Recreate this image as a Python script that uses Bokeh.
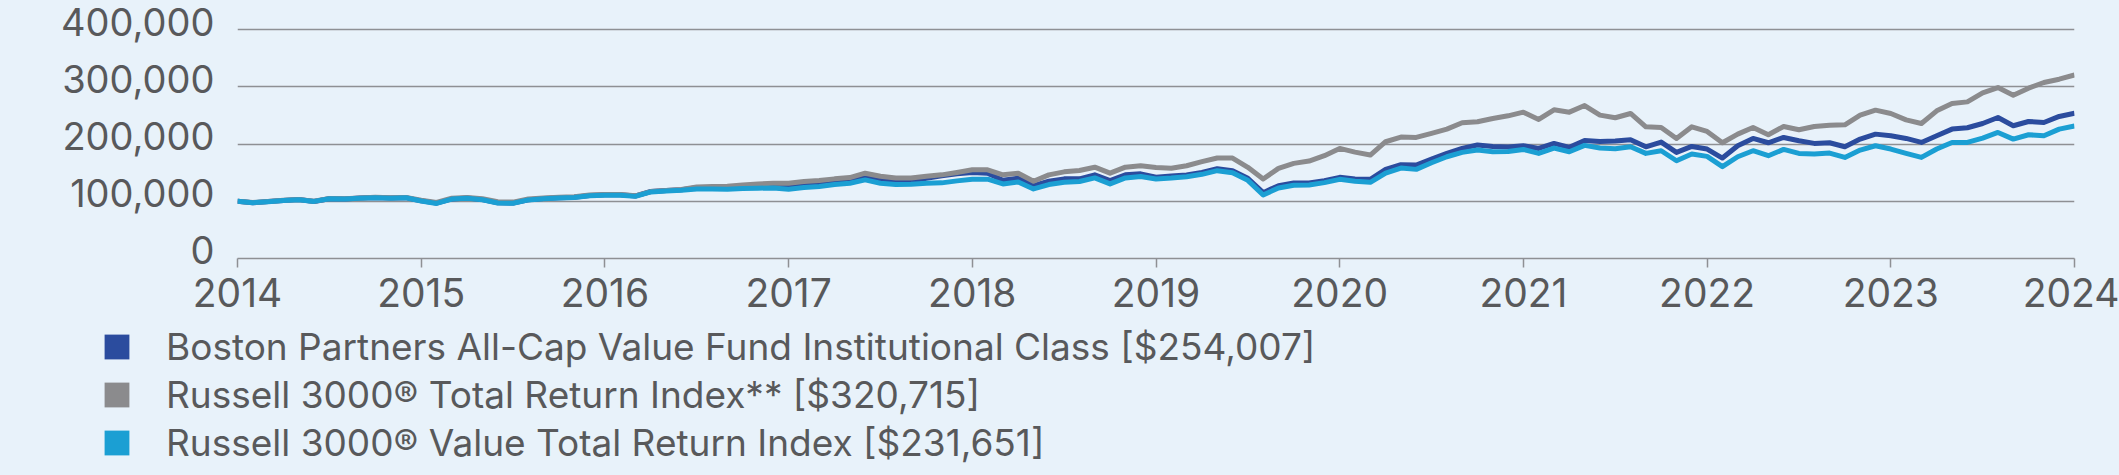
from bokeh.plotting import figure
from bokeh.models import (Range1d, LinearAxis, FixedTicker, NumeralTickFormatter,
                          Legend, LegendItem)
from bokeh.embed import file_html
from bokeh.resources import INLINE

# ---------------- data (values in $ thousands, monthly) ----------------
years = [2014, 2015, 2016, 2017, 2018, 2019, 2020, 2021, 2022, 2023, 2024]
y_ticks = [0, 100000, 200000, 300000, 400000]

fund_name = "Boston Partners All-Cap Value Fund Institutional Class [$254,007]"
r3000_name = "Russell 3000® Total Return Index** [$320,715]"
r3000v_name = "Russell 3000® Value Total Return Index [$231,651]"

fund = [100.0, 97.4, 99.5, 101.5, 103.0, 99.6, 104.5, 104.1, 105.6, 106.6, 105.7, 106.4,
        100.8, 96.8, 104.2, 105.8, 103.0, 97.4, 97.0, 102.8, 104.9, 106.4, 107.1, 110.3,
        111.3, 111.4, 109.3, 117.1, 118.8, 120.3,
        123.5, 123.5, 123.5, 125.5, 126.5, 127.5, 127.0, 129.5, 131.0, 134.0, 136.5, 143.5,
        137.5, 135.0, 135.5, 140.4, 144.4, 148.0, 150.3, 149.1, 136.8, 140.4, 127.5, 135.1,
        139.2, 139.2, 146.2, 136.3, 146.2, 148.0,
        142.0,
        144.2, 145.9, 150.6, 157.0, 153.5, 140.1, 115.1, 127.3, 132.0, 132.0, 136.0, 141.9,
        139.0, 138.4, 155.8, 164.0, 163.4, 173.8, 183.7, 192.4, 198.3, 195.9, 194.8, 197.1,
        192.4, 201.2, 194.2, 206.4, 204.7,
        205.2,
        207.6, 195.3, 203.5, 185.5, 195.9, 191.3, 175.6, 197.1, 209.9, 202.3, 211.6, 205.8,
        201.2, 202.3, 195.3, 208.7, 217.4, 214.5, 209.9, 202.9, 214.5, 226.2, 228.5, 236.0,
        246.5, 232.0, 239.5, 237.8, 248.3, 254.007]

r3000 = [100.0, 97.8, 99.6, 101.8, 103.2, 100.2, 104.8, 104.4, 105.9, 107.0, 106.0, 106.8,
         101.8, 98.0, 105.4, 106.8, 104.4, 99.2, 98.6, 104.0, 105.8, 107.2, 107.8, 111.0,
         111.8, 111.8, 109.6, 117.0, 118.8, 120.5,
         125.1, 125.7, 126.3, 128.7, 130.4, 131.6, 131.6, 134.5, 136.3, 139.2, 141.5, 149.1,
         143.9, 140.9, 140.9, 143.9, 146.2, 150.3, 155.0, 155.0, 146.2, 149.1, 135.1, 146.2,
         151.5, 153.8, 159.6, 149.1, 159.6, 162.0,
         159.2,
         157.6, 162.2, 169.2, 175.6, 175.6, 159.3, 139.0, 157.6, 166.3, 170.3, 179.7, 192.4,
         186.0, 180.8, 204.1, 212.2, 211.6, 218.6, 226.2, 237.2, 239.0, 244.8, 249.4, 255.8,
         243.0, 259.9, 255.8, 267.4, 250.6,
         246.0,
         253.5, 230.2, 229.1, 209.9, 230.2, 222.1, 202.3, 217.4, 229.1, 216.3, 230.8, 225.0,
         230.8, 233.1, 233.7, 250.6, 259.3, 253.5, 242.4, 236.0, 258.1, 270.9, 273.8, 289.5,
         298.8, 285.5, 297.7, 307.6, 313.4, 320.715]

r3000v = [100.0, 97.6, 99.4, 101.4, 102.8, 99.8, 104.3, 103.9, 105.3, 106.4, 105.4, 106.2,
          100.4, 96.3, 103.9, 105.4, 102.6, 97.0, 96.6, 102.4, 104.4, 105.8, 106.5, 109.6,
          110.6, 110.7, 108.6, 116.3, 118.0, 119.4,
          121.6, 121.6, 121.1, 122.2, 122.8, 123.4, 121.1, 124.0, 125.7, 129.2, 131.6, 137.4,
          131.6, 129.2, 129.8, 131.6, 132.2, 135.7, 138.6, 138.6, 130.4, 133.9, 121.6, 129.2,
          133.3, 134.5, 140.9, 130.4, 140.9, 143.3,
          139.0,
          140.7, 143.0, 147.1, 153.5, 150.0, 136.6, 111.0, 123.3, 127.9, 128.5, 132.6, 138.4,
          134.9, 133.1, 149.4, 158.1, 155.8, 167.4, 177.9, 185.5, 189.5, 186.6, 187.2, 190.7,
          183.7, 193.0, 186.6, 197.7, 193.0,
          192.0,
          195.3, 183.7, 188.4, 170.9, 182.6, 178.5, 160.5, 177.9, 188.4, 179.7, 190.7, 183.7,
          182.6, 184.3, 176.7, 189.5, 197.1, 191.3, 183.7, 176.7, 191.3, 202.9, 202.9, 210.5,
          220.3, 208.7, 216.3, 214.5, 226.2, 231.651]

# ---------------- styling ----------------
BG = "#E8F2FA"
C_FUND = "#2B4C9E"
C_R3000 = "#8B8B8D"
C_R3000V = "#1B9FD3"
C_GRID = "#8E9094"
C_TEXT = "#58595B"
FONT = "Inter"

x = [years[0] + m / 12 for m in range(len(fund))]


def to_dollars(s):
    return [v * 1000 for v in s]


p = figure(width=2119, height=320, output_backend="svg", toolbar_location=None,
           x_range=Range1d(2014, 2024), y_range=Range1d(0, 430000),
           y_axis_location=None,
           min_border_left=237, min_border_right=45, min_border_top=12, min_border_bottom=62,
           background_fill_color=BG, border_fill_color=BG, outline_line_color=None)

p.xgrid.visible = False
p.ygrid.ticker = FixedTicker(ticks=y_ticks[1:])
p.ygrid.grid_line_color = C_GRID
p.ygrid.grid_line_width = 1.5

xa = p.xaxis[0]
xa.ticker = FixedTicker(ticks=years)
xa.axis_line_color = C_GRID
xa.axis_line_width = 1.5
xa.major_tick_line_color = C_GRID
xa.major_tick_line_width = 1.5
xa.major_tick_in = 0
xa.major_tick_out = 9
xa.minor_tick_line_color = None
xa.major_label_standoff = 10
xa.major_label_text_font = FONT
xa.major_label_text_font_size = "39px"
xa.major_label_text_color = C_TEXT

# y labels sit a little above their gridlines in the original
p.extra_y_ranges = {"yl": Range1d(-14000, 416000)}
yl = LinearAxis(y_range_name="yl", ticker=FixedTicker(ticks=y_ticks),
                formatter=NumeralTickFormatter(format="0,0"),
                axis_line_color=None, major_tick_line_color=None, minor_tick_line_color=None,
                major_tick_in=0, major_tick_out=0, major_label_standoff=23,
                major_label_text_font=FONT, major_label_text_font_size="38px",
                major_label_text_color=C_TEXT)
p.add_layout(yl, "left")

series = [(fund, C_FUND, fund_name), (r3000, C_R3000, r3000_name), (r3000v, C_R3000V, r3000v_name)]
for vals, col, name in series:
    p.line(x, to_dollars(vals), line_color=col, line_width=5, line_join="round")

# ---------------- legend (own strip below the chart) ----------------
pl = figure(width=2119, height=155, output_backend="svg", toolbar_location=None,
            x_axis_location=None, y_axis_location=None,
            x_range=Range1d(0, 1), y_range=Range1d(0, 1),
            min_border_left=101, min_border_top=4, min_border_right=0, min_border_bottom=0,
            background_fill_color=BG, border_fill_color=BG, outline_line_color=None)
pl.xgrid.visible = False
pl.ygrid.visible = False
items = []
for vals, col, name in series:
    # zero-area swatch renderer: only used to draw the legend square
    sw = pl.quad(left=[0], right=[0], top=[0], bottom=[0], fill_color=col, line_color=None)
    items.append(LegendItem(label=name, renderers=[sw]))

legend = Legend(items=items, location="top_left", orientation="vertical",
                glyph_width=31, glyph_height=31, label_standoff=34, spacing=3,
                padding=0, margin=0, border_line_color=None, background_fill_alpha=0,
                label_text_font=FONT, label_text_font_size="37px", label_text_color=C_TEXT,
                label_height=31)
pl.add_layout(legend, "center")

html = file_html([p, pl], INLINE)
html = html.replace("</head>",
                    "<style>html,body{background-color:%s;line-height:0;font-size:0;}</style></head>" % BG, 1)
open("out.html", "w").write(html)
